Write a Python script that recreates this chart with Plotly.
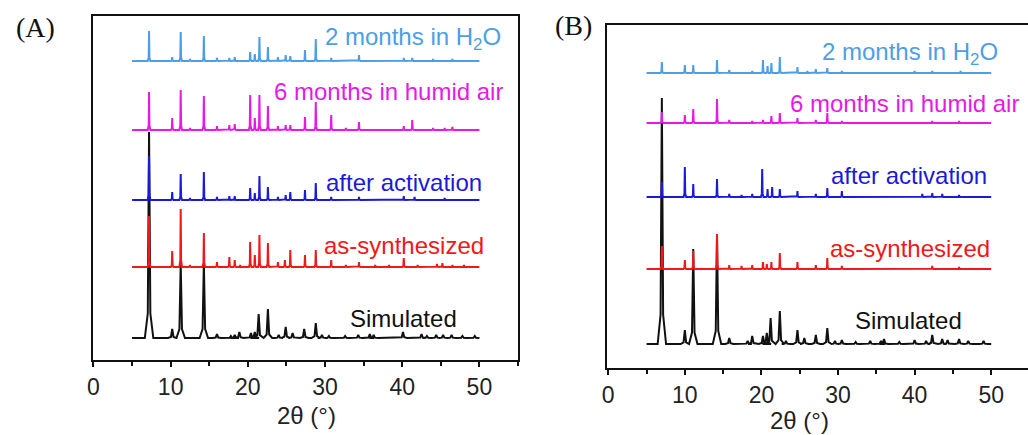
import plotly.graph_objects as go

# ---------------- data: peak positions (2θ, °) and peak heights (a.u.) ----------------
series_names = ["Simulated", "as-synthesized", "after activation",
                "6 months in humid air", "2 months in H<sub>2</sub>O"]

# Panel A
sim_A_pos = [7.2, 10.2, 11.3, 14.3, 16.0, 17.8, 18.3, 18.9, 20.4, 20.9, 21.4, 22.6, 24.0, 24.9,
             25.8, 27.3, 28.8, 29.6, 30.5, 32.6, 34.3, 35.8, 36.3, 40.1, 42.5, 43.2, 44.4, 45.3,
             46.4, 47.8, 49.4]
sim_A_int = [206, 9, 75, 75, 4, 2, 3, 6, 5, 6, 24, 29, 3, 11,
             5, 9, 15, 3, 2, 2, 3, 4, 3, 6, 4, 2, 3, 3,
             3, 2, 2]

syn_A_pos = [7.2, 10.2, 11.3, 12.5, 14.3, 16.0, 17.6, 18.3, 19.0, 20.3, 20.9, 21.5, 22.6, 23.9,
             24.8, 25.5, 27.4, 28.8, 30.8, 32.7, 34.4, 36.5, 38.3, 40.2, 42.0, 44.5, 45.2, 46.5, 48.0]
syn_A_int = [51, 16, 58, 2, 34, 5, 10, 7, 2, 25, 12, 32, 24, 5,
             7, 17, 12, 17, 7, 2, 5, 2, 2, 9, 2, 3, 4, 2, 2]

act_A_pos = [7.2, 10.2, 11.3, 12.5, 14.3, 16.0, 17.6, 18.3, 20.3, 20.9, 21.5, 22.6, 23.9, 24.9,
             25.5, 27.4, 28.8, 30.8, 34.4, 40.2, 41.6, 45.5]
act_A_int = [44, 8, 26, 2, 28, 3, 4, 4, 12, 7, 24, 13, 3, 5,
             8, 10, 17, 3, 3, 4, 3, 2]

hum_A_pos = [7.2, 10.2, 11.3, 12.5, 14.3, 16.0, 17.6, 18.3, 20.3, 20.9, 21.5, 22.6, 23.9, 24.9,
             25.5, 27.4, 28.8, 30.8, 32.7, 34.4, 40.2, 41.3, 44.0, 45.5, 46.5]
hum_A_int = [38, 12, 40, 2, 34, 4, 5, 6, 35, 12, 35, 24, 4, 5,
             5, 13, 28, 15, 2, 8, 4, 10, 2, 2, 3]

h2o_A_pos = [7.2, 10.2, 11.3, 12.5, 14.3, 16.0, 17.6, 18.3, 20.3, 20.9, 21.5, 22.6, 23.9, 24.9,
             25.5, 27.4, 28.8, 30.8, 34.4, 40.2, 41.3, 44.0, 46.5]
h2o_A_int = [30, 4, 29, 2, 25, 3, 3, 4, 9, 7, 24, 14, 4, 6,
             5, 11, 22, 3, 6, 3, 3, 2, 2]

offsets_A = [22, 93, 160, 230, 299]

# Panel B
sim_B_pos = [7.0, 10.0, 11.1, 14.2, 15.8, 18.2, 18.8, 20.2, 20.7, 21.2, 22.4, 23.2, 24.7, 25.6,
             27.1, 28.6, 29.6, 30.5, 32.3, 34.2, 35.6, 36.0, 38.0, 40.0, 41.5, 42.3, 43.6, 44.3,
             45.8, 47.0, 49.0]
sim_B_int = [246, 14, 95, 109, 6, 3, 8, 8, 11, 26, 33, 3, 14, 6,
             9, 16, 3, 4, 2, 3, 3, 5, 2, 4, 3, 9, 5, 4,
             5, 3, 3]

syn_B_pos = [7.0, 10.0, 11.1, 14.2, 15.8, 17.4, 18.8, 20.2, 20.7, 21.3, 22.4, 24.7, 27.1, 28.6,
             30.5, 42.3, 45.8]
syn_B_int = [23, 9, 18, 35, 4, 3, 4, 7, 5, 7, 16, 7, 4, 11,
             3, 3, 2]

act_B_pos = [7.0, 10.0, 11.1, 14.2, 15.8, 17.4, 18.8, 20.1, 20.8, 21.4, 22.4, 24.7, 27.1, 28.6,
             30.5, 41.0, 42.3, 43.6, 45.8]
act_B_int = [15, 30, 13, 18, 3, 2, 3, 28, 8, 10, 8, 6, 3, 9,
             6, 3, 4, 3, 2]

hum_B_pos = [7.0, 10.0, 11.1, 14.2, 15.8, 18.8, 20.2, 21.3, 22.4, 24.7, 27.1, 28.6, 30.5, 42.3, 45.8]
hum_B_int = [11, 8, 14, 24, 3, 2, 3, 7, 10, 5, 3, 10, 2, 2, 2]

h2o_B_pos = [7.0, 10.0, 11.1, 14.2, 15.8, 18.8, 20.2, 20.8, 21.3, 22.4, 24.7, 26.0, 27.1, 28.6,
             30.5, 40.0, 42.3, 46.0]
h2o_B_int = [11, 8, 8, 13, 3, 2, 13, 7, 10, 16, 6, 2, 4, 5,
             2, 2, 2, 2]

offsets_B = [24, 99, 171, 245, 295]

scan_start, scan_end = 5, 50
colors = ["#111111", "#f01818", "#1a1ad8", "#e619e6", "#4c9ee6"]

# label anchor (right edge x, centre y) in data units
label_xy_A = [(47.3, 42), (50.9, 115), (50.6, 178), (53.3, 269), (53.0, 322)]
label_xy_B = [(46.4, 48), (50.1, 120), (49.7, 193), (53.9, 265), (51.1, 315)]

SANS = "Liberation Sans, Arial, sans-serif"
SERIF = "Liberation Serif, Times New Roman, serif"


def pattern(pos, inten, base, half_width):
    """Polyline of a stick-like diffraction pattern sitting on a baseline."""
    xs, ys = [scan_start], [base]
    for p, h in sorted(zip(pos, inten)):
        xs += [p - half_width, p - 0.3 * half_width, p, p + 0.3 * half_width, p + half_width]
        ys += [base, base + 0.12 * h, base + h, base + 0.12 * h, base]
    xs.append(scan_end)
    ys.append(base)
    return xs, ys


panels = [
    ("x", "y", [(sim_A_pos, sim_A_int), (syn_A_pos, syn_A_int), (act_A_pos, act_A_int),
                (hum_A_pos, hum_A_int), (h2o_A_pos, h2o_A_int)], offsets_A, label_xy_A),
    ("x2", "y2", [(sim_B_pos, sim_B_int), (syn_B_pos, syn_B_int), (act_B_pos, act_B_int),
                  (hum_B_pos, hum_B_int), (h2o_B_pos, h2o_B_int)], offsets_B, label_xy_B),
]

fig = go.Figure()
annotations = []
for xa, ya, data, offs, labels in panels:
    for i, ((pos, inten), base) in enumerate(zip(data, offs)):
        hw = 0.55 if i == 0 else 0.17
        xs, ys = pattern(pos, inten, base, hw)
        fig.add_trace(go.Scatter(x=xs, y=ys, mode="lines", xaxis=xa, yaxis=ya,
                                 line=dict(color=colors[i], width=2), showlegend=False,
                                 hoverinfo="skip"))
        lx, ly = labels[i]
        annotations.append(dict(x=lx, y=ly, xref=xa, yref=ya, text=series_names[i],
                                showarrow=False, xanchor="right", yanchor="middle",
                                font=dict(size=24, color=colors[i], family=SANS)))

W, H = 1028, 435

# axis titles and panel letters
for xpx, ypx, txt, fnt in [(302, 415, "2θ (°)", dict(size=24, color="#222222", family=SANS)),
                           (798, 420, "2θ (°)", dict(size=24, color="#222222", family=SANS)),
                           (30, 27, "(A)", dict(size=28, color="#111111", family=SERIF)),
                           (571, 26, "(B)", dict(size=28, color="#111111", family=SERIF))]:
    annotations.append(dict(x=xpx / W, y=1 - ypx / H, xref="paper", yref="paper", text=txt,
                            showarrow=False, xanchor="center", yanchor="middle", font=fnt,
                            borderpad=0))

xaxis_common = dict(showline=True, linecolor="#111111", linewidth=2, mirror=True,
                    ticks="outside", ticklen=5, tickwidth=2, tickcolor="#111111",
                    tickvals=[0, 10, 20, 30, 40, 50], showgrid=False, zeroline=False,
                    tickfont=dict(size=23, color="#222222", family=SANS),
                    ticklabelstandoff=0,
                    minor=dict(tickvals=[5, 15, 25, 35, 45, 55], ticks="outside", ticklen=4,
                               tickwidth=2, tickcolor="#111111"))
yaxis_common = dict(showline=True, linecolor="#111111", linewidth=2, showticklabels=False,
                    ticks="", showgrid=False, zeroline=False)

fig.update_layout(
    width=W, height=H,
    margin=dict(l=0, r=0, t=0, b=0),
    paper_bgcolor="white", plot_bgcolor="white",
    xaxis=dict(domain=[88 / W, 515 / W], range=[0, 55], anchor="y", **xaxis_common),
    yaxis=dict(domain=[1 - 360 / H, 1 - 16 / H], range=[0, 344], anchor="x", mirror=True,
               **yaxis_common),
    xaxis2=dict(domain=[605 / W, 1.0], range=[-0.1, 54.8], anchor="y2", **xaxis_common),
    yaxis2=dict(domain=[1 - 368 / H, 1 - 25 / H], range=[0, 343], anchor="x2", mirror=False,
                **yaxis_common),
    annotations=annotations,
)

fig.write_html("out.html")
